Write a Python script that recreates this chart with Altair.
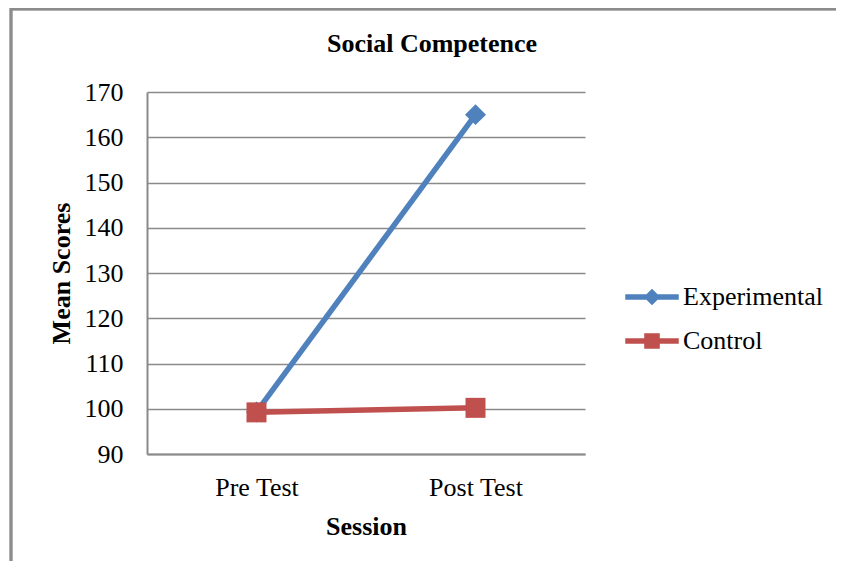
import altair as alt
import pandas as pd

sessions = ["Pre Test", "Post Test"]
series_names = ["Experimental", "Control"]
experimental = [99.3, 165.0]
control = [99.2, 100.2]
y_ticks = [90, 100, 110, 120, 130, 140, 150, 160, 170]
colors = ["#4F81BD", "#C0504D"]

rows = []
for s, v in zip(sessions, experimental):
    rows.append({"Session": s, "Series": "Experimental", "Value": v})
for s, v in zip(sessions, control):
    rows.append({"Session": s, "Series": "Control", "Value": v})
df = pd.DataFrame(rows)

FONT = "Liberation Serif"
GRID = "#8a8a8a"

x_enc = alt.X("Session:N", sort=sessions,
              scale=alt.Scale(type="point", padding=0.5),
              axis=alt.Axis(title="Session", labelAngle=0, ticks=False,
                            labelPadding=20, titlePadding=13, grid=False))
y_enc = alt.Y("Value:Q", scale=alt.Scale(domain=[90, 170], nice=False, zero=False),
              axis=alt.Axis(title="Mean Scores", values=y_ticks, ticks=False,
                            labelPadding=24, titlePadding=10, grid=True))
color_scale = alt.Scale(domain=series_names, range=colors)

diamond_path = "M-1,-0.08H1V0.08H-1Z M0,-0.28L0.28,0L0,0.28L-0.28,0Z"
square_path = "M-1,-0.08H1V0.08H-1Z M-0.27,-0.27H0.27V0.27H-0.27Z"

legend_kw = dict(title=None, orient="none", legendX=478, legendY=178,
                 symbolSize=2704, symbolOpacity=1, labelFont=FONT,
                 labelFontSize=26, labelColor="black", rowPadding=4,
                 labelOffset=4)

color_enc = alt.Color("Series:N", scale=color_scale, sort=series_names,
                      legend=alt.Legend(**legend_kw))

base = alt.Chart(df)

lines = base.mark_line(strokeWidth=5.5).encode(
    x=x_enc, y=y_enc, color=color_enc, detail="Series:N",
)

pts_exp = base.transform_filter(alt.datum.Series == "Experimental").mark_point(
    shape="diamond", filled=True, size=440, opacity=1).encode(
    x=x_enc, y=y_enc, color=color_enc,
)
pts_ctl = base.transform_filter(alt.datum.Series == "Control").mark_point(
    shape="square", filled=True, size=400, opacity=1).encode(
    x=x_enc, y=y_enc, color=color_enc,
)

legend_layer = base.mark_point(filled=True, opacity=0, size=10).encode(
    x=x_enc, y=y_enc,
    color=color_enc,
    shape=alt.Shape("Series:N", sort=series_names,
                    scale=alt.Scale(domain=series_names, range=[diamond_path, square_path]),
                    legend=alt.Legend(**legend_kw)),
)

frame_left = alt.Chart(df).mark_rule(color="#8c8c8c", strokeWidth=2.5, clip=False).encode(
    x=alt.value(-136), y=alt.value(-84), y2=alt.value(470))
frame_top = alt.Chart(df).mark_rule(color="#8c8c8c", strokeWidth=2.5, clip=False).encode(
    x=alt.value(-137), x2=alt.value(689), y=alt.value(-83))

chart = alt.layer(frame_left, frame_top, lines, pts_exp, pts_ctl, legend_layer).properties(
    width=438, height=362,
    background="white",
    title=alt.TitleParams("Social Competence", font=FONT, fontSize=26, fontWeight="bold",
                          color="black", anchor="middle", frame="group", dx=66, offset=-50),
    autosize=alt.AutoSizeParams(type="none"),
    padding={"left": 139, "top": 84, "right": 251, "bottom": 107},
).configure_view(stroke=None).configure_axis(
    labelFont=FONT, labelFontSize=26, labelColor="black",
    titleFont=FONT, titleFontSize=26, titleFontWeight="bold", titleColor="black",
    domainColor=GRID, domainWidth=2, gridColor=GRID, gridWidth=1.5,
)

chart.save("out.html", embed_options={"renderer": "svg", "actions": False})
